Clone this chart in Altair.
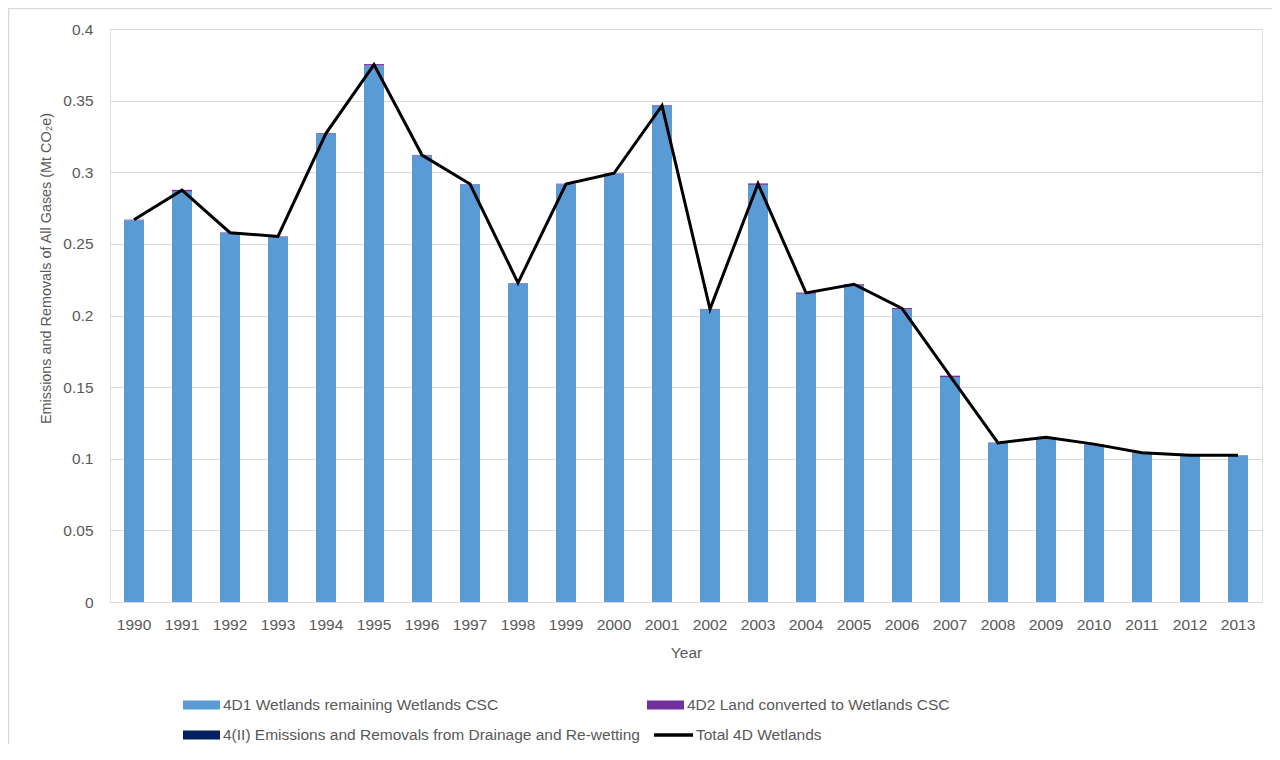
import altair as alt
import pandas as pd

years = [str(y) for y in range(1990, 2014)]
wetlands_remaining = [0.2665, 0.2865, 0.2578, 0.2550, 0.3267, 0.3745, 0.3118, 0.2915, 0.2225,
                      0.2915, 0.2990, 0.3462, 0.2043, 0.2912, 0.2152, 0.2208, 0.2042, 0.1570,
                      0.1110, 0.1148, 0.1100, 0.1040, 0.1022, 0.1022]
land_converted = [0.0004, 0.0012, 0.0003, 0.0003, 0.0005, 0.0010, 0.0003, 0.0003, 0.0002,
                  0.0005, 0.0003, 0.0005, 0.0003, 0.0010, 0.0008, 0.0010, 0.0010, 0.0010,
                  0.0003, 0.0002, 0.0002, 0.0002, 0.0002, 0.0002]
drainage = [0.0] * 24
total = [0.2668, 0.2875, 0.2578, 0.2552, 0.3272, 0.3752, 0.3120, 0.2918, 0.2228,
         0.2918, 0.2993, 0.3465, 0.2045, 0.2920, 0.2158, 0.2218, 0.2050, 0.1578,
         0.1110, 0.1150, 0.1102, 0.1042, 0.1025, 0.1025]

series = ["4D1 Wetlands remaining Wetlands CSC",
          "4D2 Land converted to Wetlands CSC",
          "4(II) Emissions and Removals from Drainage and Re-wetting"]
bar_colors = ["#5B9BD5", "#7030A0", "#002060"]
line_name = ["Total 4D Wetlands"]
line_color = ["#000000"]
y_ticks = [0, 0.05, 0.1, 0.15, 0.2, 0.25, 0.3, 0.35, 0.4]

rows = []
for i, y in enumerate(years):
    for k, vals in enumerate([wetlands_remaining, land_converted, drainage]):
        rows.append({"Year": y, "series": series[k], "value": vals[i], "order": k})
bars_df = pd.DataFrame(rows)
line_df = pd.DataFrame({"Year": years, "value": total, "series": line_name[0]})

GRAY = "#595959"
SANS = "Liberation Sans"

W, H = 1152, 573

xscale = alt.Scale(paddingInner=0.583, paddingOuter=0.2915)
yscale = alt.Scale(domain=[0, 0.4], nice=False)

bar_legend = alt.Legend(
    title=None, orient="none", legendX=73, legendY=657.5, columns=2, direction="horizontal",
    columnPadding=7, rowPadding=3, padding=0, labelOffset=3,
    symbolSize=1369, symbolType="M-1,-0.24H1V0.24H-1Z", symbolStrokeWidth=0,
    symbolOpacity=1,
    labelFont=SANS, labelFontSize=15.5, labelColor=GRAY, labelLimit=700,
)
line_legend = alt.Legend(
    title=None, orient="none", legendX=542, legendY=684.5, padding=0, labelOffset=1,
    symbolSize=1521, symbolType="stroke", symbolStrokeWidth=3.5, symbolOpacity=1,
    labelFont=SANS, labelFontSize=15.5, labelColor=GRAY, labelLimit=700,
)

bars = alt.Chart(bars_df).mark_bar(size=20).encode(
    x=alt.X("Year:N", scale=xscale, sort=years,
            axis=alt.Axis(title="Year", labelAngle=0, labelFont=SANS, labelFontSize=15.5,
                          labelColor=GRAY, labelPadding=15, ticks=False, tickSize=0,
                          domain=True, domainColor="#d9d9d9", grid=False,
                          titleFont=SANS, titleFontSize=15.5, titleColor=GRAY,
                          titleFontWeight="normal", titlePadding=13)),
    y=alt.Y("value:Q", scale=yscale, stack="zero",
            axis=alt.Axis(title="Emissions and Removals of All Gases (Mt CO₂e)",
                          values=y_ticks, format="~g", labelFont=SANS, labelFontSize=15.5,
                          labelColor=GRAY, labelPadding=17, ticks=False, tickSize=0,
                          domain=False, gridColor="#d9d9d9", gridWidth=1,
                          titleFont=SANS, titleFontSize=14.4, titleColor=GRAY,
                          titleFontWeight="normal", titleX=-64, titleY=239,
                          titleAlign="center", titleBaseline="middle", titleAngle=270)),
    fill=alt.Fill("series:N", scale=alt.Scale(domain=series, range=bar_colors),
                  legend=bar_legend),
    order=alt.Order("order:Q", sort="ascending"),
)

line = alt.Chart(line_df).mark_line(strokeWidth=3, strokeJoin="miter").encode(
    x=alt.X("Year:N", sort=years),
    y=alt.Y("value:Q"),
    stroke=alt.Stroke("series:N", scale=alt.Scale(domain=line_name, range=line_color),
                      legend=line_legend),
)

frame = alt.Chart(pd.DataFrame({"a": [0]})).mark_rect(
    fill="transparent", stroke="#d9d9d9", strokeWidth=1.5).encode(
    x=alt.value(-101.5), x2=alt.value(1250), y=alt.value(-20.5), y2=alt.value(760))

chart = alt.layer(frame, bars, line).properties(
    width=W, height=H,
    autosize=alt.AutoSizeParams(type="none"),
    padding={"left": 102, "top": 21, "right": 10, "bottom": 142},
).configure_view(stroke=None).configure(background="white")

chart.save("out.html", embed_options={"renderer": "svg", "actions": False})
